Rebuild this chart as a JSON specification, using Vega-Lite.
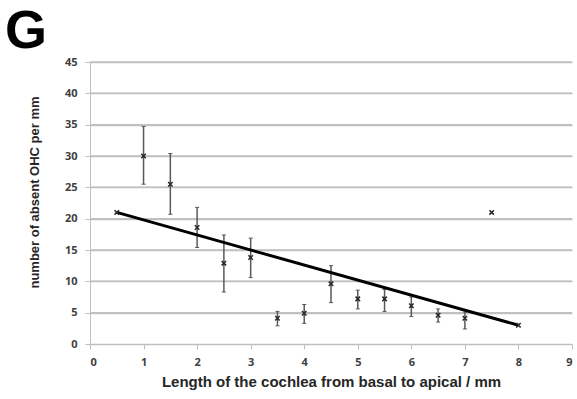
{
  "$schema": "https://vega.github.io/schema/vega-lite/v6.json",
  "width": 482,
  "height": 282,
  "autosize": "none",
  "padding": {"left": 90, "top": 62, "right": 5, "bottom": 55},
  "background": "white",
  "title": {
    "text": "G",
    "anchor": "start",
    "frame": "group",
    "fontSize": 54,
    "fontWeight": "bold",
    "font": "Liberation Sans",
    "color": "#000000",
    "dx": -85,
    "offset": -3
  },
  "config": {
    "view": {"stroke": null},
    "axis": {
      "labelFont": "Open Sans",
      "labelFontWeight": "bold",
      "labelFontSize": 11,
      "labelColor": "#404040",
      "titleFont": "Liberation Sans",
      "titleFontWeight": "bold",
      "titleColor": "#262626",
      "domainColor": "#bfbfbf",
      "tickColor": "#bfbfbf",
      "gridColor": "#c0c0c0",
      "gridWidth": 1.5,
      "tickSize": 5
    },
    "axisX": {"format": "d", "grid": false, "labelPadding": 7, "titlePadding": 7, "titleFontSize": 15},
    "axisY": {"format": "d", "grid": true, "labelPadding": 8, "titlePadding": 23, "titleFontSize": 13}
  },
  "datasets": {
    "gridvals": [
      {"v": 5}, {"v": 10}, {"v": 15}, {"v": 20}, {"v": 25}, {"v": 30}, {"v": 35}, {"v": 40}, {"v": 45}
    ],
    "pts": [
      {"x": 0.5, "y": 21.0},
      {"x": 1.0, "y": 30.0, "lo": 25.5, "hi": 34.7},
      {"x": 1.5, "y": 25.5, "lo": 20.7, "hi": 30.4},
      {"x": 2.0, "y": 18.6, "lo": 15.4, "hi": 21.8},
      {"x": 2.5, "y": 12.9, "lo": 8.3, "hi": 17.4},
      {"x": 3.0, "y": 13.8, "lo": 10.6, "hi": 16.9},
      {"x": 3.5, "y": 4.1, "lo": 2.9, "hi": 5.2},
      {"x": 4.0, "y": 4.9, "lo": 3.3, "hi": 6.3},
      {"x": 4.5, "y": 9.6, "lo": 6.6, "hi": 12.5},
      {"x": 5.0, "y": 7.2, "lo": 5.6, "hi": 8.6},
      {"x": 5.5, "y": 7.2, "lo": 5.2, "hi": 8.7},
      {"x": 6.0, "y": 6.1, "lo": 4.4, "hi": 7.5},
      {"x": 6.5, "y": 4.6, "lo": 3.5, "hi": 5.6},
      {"x": 7.0, "y": 4.1, "lo": 2.4, "hi": 5.1},
      {"x": 7.5, "y": 21.0},
      {"x": 8.0, "y": 3.0}
    ],
    "trend": [
      {"x": 0.5, "y": 21.0},
      {"x": 8.0, "y": 3.0}
    ]
  },
  "layer": [
    {
      "data": {"name": "gridvals"},
      "mark": {"type": "rule", "color": "#c0c0c0", "strokeWidth": 1.5},
      "encoding": {
        "y": {
          "field": "v", "type": "quantitative",
          "scale": {"domain": [0, 45], "nice": false},
          "axis": {"title": "number of absent OHC per mm", "values": [0,5,10,15,20,25,30,35,40,45], "grid": true, "titleY": 130}
        }
      }
    },
    {
      "data": {"name": "pts"},
      "transform": [{"filter": "isValid(datum.lo)"}],
      "mark": {"type": "rule", "color": "#595959", "strokeWidth": 1.5},
      "encoding": {
        "x": {
          "field": "x", "type": "quantitative",
          "scale": {"domain": [0, 9], "nice": false},
          "axis": {"title": "Length of the cochlea from basal to apical / mm", "values": [0,1,2,3,4,5,6,7,8,9], "grid": false}
        },
        "y": {
          "field": "lo", "type": "quantitative",
          "axis": {"title": "number of absent OHC per mm", "values": [0,5,10,15,20,25,30,35,40,45], "grid": true, "titleY": 130}
        },
        "y2": {"field": "hi"}
      }
    },
    {
      "data": {"name": "pts"},
      "transform": [{"filter": "isValid(datum.lo)"}, {"fold": ["lo", "hi"], "as": ["end", "val"]}],
      "mark": {"type": "tick", "orient": "horizontal", "size": 4, "thickness": 1, "color": "#595959", "opacity": 1},
      "encoding": {
        "x": {"field": "x", "type": "quantitative", "axis": {"title": "Length of the cochlea from basal to apical / mm", "values": [0,1,2,3,4,5,6,7,8,9], "grid": false}},
        "y": {"field": "val", "type": "quantitative", "axis": {"title": "number of absent OHC per mm", "values": [0,5,10,15,20,25,30,35,40,45], "grid": true, "titleY": 130}}
      }
    },
    {
      "data": {"name": "trend"},
      "mark": {"type": "line", "color": "#000000", "strokeWidth": 3},
      "encoding": {
        "x": {"field": "x", "type": "quantitative", "axis": {"title": "Length of the cochlea from basal to apical / mm", "values": [0,1,2,3,4,5,6,7,8,9], "grid": false}},
        "y": {"field": "y", "type": "quantitative", "axis": {"title": "number of absent OHC per mm", "values": [0,5,10,15,20,25,30,35,40,45], "grid": true, "titleY": 130}}
      }
    },
    {
      "data": {"name": "pts"},
      "mark": {"type": "point", "shape": "M-1,-1L1,1M-1,1L1,-1", "size": 20, "filled": false, "stroke": "#262626", "strokeWidth": 1.5, "opacity": 1},
      "encoding": {
        "x": {"field": "x", "type": "quantitative", "axis": {"title": "Length of the cochlea from basal to apical / mm", "values": [0,1,2,3,4,5,6,7,8,9], "grid": false}},
        "y": {"field": "y", "type": "quantitative", "axis": {"title": "number of absent OHC per mm", "values": [0,5,10,15,20,25,30,35,40,45], "grid": true, "titleY": 130}}
      }
    }
  ]
}
